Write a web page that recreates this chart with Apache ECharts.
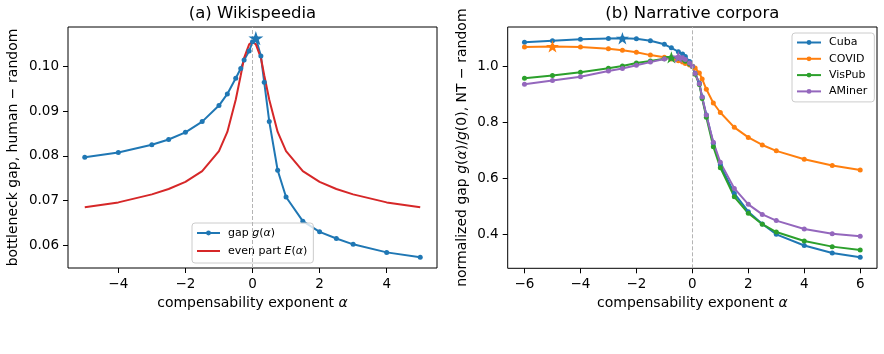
<!DOCTYPE html>
<html><head><meta charset="utf-8">
<script src="https://cdn.jsdelivr.net/npm/echarts@6/dist/echarts.min.js"></script>
<style>html,body{margin:0;padding:0;background:#fff}#c{width:884px;height:354px}</style>
</head><body><div id="c"></div>
<script>
// ---- data ----
const alphaLeft = [-5,-4,-3,-2.5,-2,-1.5,-1,-0.75,-0.5,-0.35,-0.25,-0.1,0,0.1,0.25,0.35,0.5,0.75,1,1.5,2,2.5,3,4,5];
const gapWiki  = [0.0797,0.0808,0.0825,0.0837,0.0853,0.0877,0.0913,0.0939,0.0974,0.0996,0.1015,0.1035,0.1056,0.1064,0.1024,0.0965,0.0877,0.0768,0.0708,0.0654,0.0630,0.0615,0.0602,0.0584,0.0573];
const evenWiki = [0.0685,0.0696,0.0714,0.0726,0.0742,0.0766,0.0811,0.0854,0.0926,0.0981,0.1020,0.1050,0.1056,0.1050,0.1020,0.0981,0.0926,0.0854,0.0811,0.0766,0.0742,0.0726,0.0714,0.0696,0.0685];

const alphaRight = [-6,-5,-4,-3,-2.5,-2,-1.5,-1,-0.75,-0.5,-0.35,-0.25,-0.1,0,0.1,0.25,0.35,0.5,0.75,1,1.5,2,2.5,3,4,5,6];
const cuba   = [1.0857,1.0917,1.0964,1.0995,1.1002,1.0982,1.0915,1.0786,1.066,1.052,1.044,1.035,1.017,1.0,0.975,0.94,0.89,0.826,0.725,0.648,0.546,0.481,0.437,0.400,0.360,0.333,0.318];
const covid  = [1.069,1.071,1.069,1.063,1.057,1.050,1.040,1.032,1.026,1.020,1.015,1.010,1.005,1.0,0.994,0.976,0.955,0.918,0.869,0.835,0.782,0.746,0.719,0.698,0.668,0.646,0.630];
const vispub = [0.957,0.967,0.979,0.993,1.001,1.012,1.019,1.027,1.032,1.029,1.025,1.018,1.008,1.0,0.972,0.935,0.885,0.818,0.713,0.638,0.534,0.475,0.436,0.408,0.376,0.356,0.344];
const aminer = [0.936,0.949,0.963,0.983,0.992,1.004,1.015,1.026,1.030,1.033,1.030,1.024,1.012,1.0,0.974,0.938,0.890,0.826,0.729,0.657,0.564,0.507,0.471,0.449,0.419,0.402,0.393];

const ticksLeftX  = [-4,-2,0,2,4];
const ticksLeftY  = [0.06,0.07,0.08,0.09,0.10];
const ticksRightX = [-6,-4,-2,0,2,4,6];
const ticksRightY = [0.4,0.6,0.8,1.0];

// ---- helpers ----
const FONT = 'DejaVu Sans';
const C = {blue:'#1f77b4', orange:'#ff7f0e', green:'#2ca02c', red:'#d62728', purple:'#9467bd'};
const STAR = 'path://M50,0 L61.2,34.5 L97.6,34.5 L68.2,55.9 L79.4,90.5 L50,69.1 L20.6,90.5 L31.8,55.9 L2.4,34.5 L38.8,34.5 Z';
const pairs = (xs, ys) => xs.map((x,i) => [x, ys[i]]);
const argmax = (xs, ys) => { let k = 0; ys.forEach((v,i) => { if (v > ys[k]) k = i; }); return [xs[k], ys[k]]; };
const minus = v => (v < 0 ? '\u2212' : '') + Math.abs(v);

function lineSeries(name, xs, ys, color, gi, withSymbol) {
  return {
    type:'line', name, xAxisIndex:gi, yAxisIndex:gi, data:pairs(xs, ys),
    symbol: withSymbol ? 'circle' : 'none', symbolSize:5, showSymbol: withSymbol,
    lineStyle:{color, width:2}, itemStyle:{color}, z:3, animation:false, silent:true
  };
}
function starSeries(xs, ys, color, gi, size) {
  return {
    type:'scatter', xAxisIndex:gi, yAxisIndex:gi, data:[argmax(xs, ys)],
    symbol:STAR, symbolSize:size, symbolKeepAspect:true,
    itemStyle:{color, opacity:1}, z:10, animation:false, silent:true
  };
}
function vline(gi) {
  return {
    type:'line', xAxisIndex:gi, yAxisIndex:gi, data:[], z:1, animation:false, silent:true,
    markLine:{silent:true, symbol:'none', label:{show:false}, animation:false,
      lineStyle:{color:'#b4b4b4', type:[4,2], width:1}, data:[{xAxis:0}]}
  };
}
const tickStyle = {show:true, length:5, lineStyle:{color:'#000', width:1}};
const labelBase = {color:'#000', fontFamily:FONT, fontSize:13.5};
const axisLineOff = {show:false, onZero:false};
const rich = {
  n:{fontFamily:FONT, fontSize:14, color:'#000'},
  i:{fontFamily:FONT, fontSize:14, fontStyle:'italic', color:'#000'}
};
const richL = {
  n:{fontFamily:FONT, fontSize:11, color:'#000'},
  i:{fontFamily:FONT, fontSize:11, fontStyle:'italic', color:'#000'}
};

const legendNames = {
  'gap': '{n|gap }{i|g}{n|(}{i|α}{n|)}',
  'even': '{n|even part }{i|E}{n|(}{i|α}{n|)}'
};

const option = {
  backgroundColor:'#fff',
  animation:false,
  grid:[
    {left:68, right:447, top:27, bottom:86, show:true, borderColor:'#000', borderWidth:1, backgroundColor:'transparent'},
    {left:507.7, right:7, top:27, bottom:85.7, show:true, borderColor:'#000', borderWidth:1, backgroundColor:'transparent'}
  ],
  xAxis:[
    {type:'value', gridIndex:0, min:-5.5, max:5.5, splitLine:{show:false}, axisLine:axisLineOff,
     axisTick:Object.assign({customValues:ticksLeftX}, tickStyle),
     axisLabel:Object.assign({customValues:ticksLeftX, formatter:minus, margin:9}, labelBase),
     name:'{n|compensability exponent }{i|α}', nameLocation:'middle', nameGap:27,
     nameTextStyle:{rich}},
    {type:'value', gridIndex:1, min:-6.6, max:6.6, splitLine:{show:false}, axisLine:axisLineOff,
     axisTick:Object.assign({customValues:ticksRightX}, tickStyle),
     axisLabel:Object.assign({customValues:ticksRightX, formatter:minus, margin:9}, labelBase),
     name:'{n|compensability exponent }{i|α}', nameLocation:'middle', nameGap:27,
     nameTextStyle:{rich}}
  ],
  yAxis:[
    {type:'value', gridIndex:0, min:0.0549, max:0.1089, splitLine:{show:false}, axisLine:axisLineOff,
     axisTick:Object.assign({customValues:ticksLeftY}, tickStyle),
     axisLabel:Object.assign({customValues:ticksLeftY, formatter:v => v.toFixed(2), margin:9}, labelBase),
     name:'{n|bottleneck gap, human \u2212 random}', nameLocation:'middle', nameGap:48, nameRotate:90,
     nameTextStyle:{rich}},
    {type:'value', gridIndex:1, min:0.2786, max:1.1404, splitLine:{show:false}, axisLine:axisLineOff,
     axisTick:Object.assign({customValues:ticksRightY}, tickStyle),
     axisLabel:Object.assign({customValues:ticksRightY, formatter:v => v.toFixed(1), margin:9}, labelBase),
     name:'{n|normalized gap }{i|g}{n|(}{i|α}{n|)/}{i|g}{n|(0), NT \u2212 random}', nameLocation:'middle', nameGap:38, nameRotate:90,
     nameTextStyle:{rich}}
  ],
  legend:[
    {data:['gap', {name:'even', itemStyle:{opacity:0}}], orient:'vertical', left:192, top:223, itemWidth:23, itemHeight:6, itemGap:4,
     padding:[3,6,5,4], backgroundColor:'rgba(255,255,255,0.8)', borderColor:'#cccccc', borderWidth:1, borderRadius:3,
     formatter:n => legendNames[n], textStyle:{rich:richL, lineHeight:14, padding:[0,0,0,3]}, selectedMode:false},
    {data:['Cuba','COVID','VisPub','AMiner'], orient:'vertical', left:792, top:33, itemWidth:24, itemHeight:6, itemGap:3.3,
     padding:[3,7,4,4], backgroundColor:'rgba(255,255,255,0.8)', borderColor:'#cccccc', borderWidth:1, borderRadius:3,
     textStyle:{fontFamily:FONT, fontSize:11, color:'#000', lineHeight:13, padding:[0,0,0,3]}, selectedMode:false}
  ],
  graphic:[
    {type:'text', x:252.5, y:13.5, style:{text:'(a) Wikispeedia', font:'16.5px "DejaVu Sans"', fill:'#000', textAlign:'center', textVerticalAlign:'middle'}},
    {type:'text', x:692.3, y:13.5, style:{text:'(b) Narrative corpora', font:'16.5px "DejaVu Sans"', fill:'#000', textAlign:'center', textVerticalAlign:'middle'}}
  ],
  series:[
    vline(0),
    lineSeries('gap', alphaLeft, gapWiki, C.blue, 0, true),
    lineSeries('even', alphaLeft, evenWiki, C.red, 0, false),
    starSeries(alphaLeft, gapWiki, C.blue, 0, 15),
    vline(1),
    lineSeries('Cuba', alphaRight, cuba, C.blue, 1, true),
    lineSeries('COVID', alphaRight, covid, C.orange, 1, true),
    lineSeries('VisPub', alphaRight, vispub, C.green, 1, true),
    lineSeries('AMiner', alphaRight, aminer, C.purple, 1, true),
    starSeries(alphaRight, cuba, C.blue, 1, 13),
    starSeries(alphaRight, covid, C.orange, 1, 13),
    starSeries(alphaRight, vispub, C.green, 1, 13),
    starSeries(alphaRight, aminer, C.purple, 1, 13)
  ]
};
const chart = echarts.init(document.getElementById('c'), null, {renderer:'canvas'});
chart.setOption(option);
</script>
</body></html>
